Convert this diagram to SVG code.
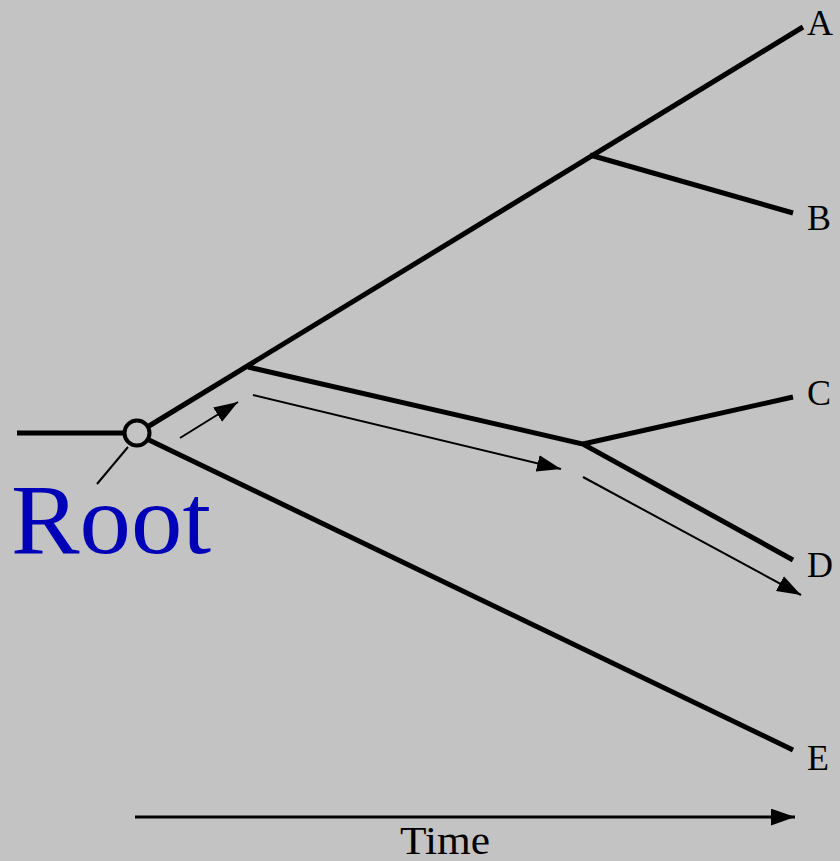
<svg xmlns="http://www.w3.org/2000/svg" width="840" height="861" viewBox="0 0 840 861">
<defs>
<marker id="ah2" viewBox="0 0 20 14" refX="20" refY="7" markerWidth="24" markerHeight="17" markerUnits="userSpaceOnUse" orient="auto">
<path d="M0,0 L20,7 L0,14 z" fill="#000"/>
</marker>
<style>
.br{stroke:#000;stroke-width:5;fill:none;stroke-linecap:butt;stroke-linejoin:miter}
.ar{stroke:#000;stroke-width:2;fill:none}
.lb{font-family:"Liberation Serif","Times New Roman",serif;font-size:36px;fill:#000}
</style>
</defs>
<rect width="840" height="861" fill="#c3c3c3"/>
<g id="connectors">
<line class="br" x1="17" y1="433" x2="125" y2="433"/>
<line class="br" x1="149" y1="426" x2="803" y2="27"/>
<line class="br" x1="590" y1="155" x2="793" y2="213"/>
<polyline class="br" points="248,367 583,444 793,560"/>
<line class="br" x1="583" y1="444" x2="793" y2="397"/>
<line class="br" x1="149" y1="440" x2="793" y2="750"/>
<line class="ar" x1="128" y1="447" x2="97" y2="484"/>
<line class="ar" x1="180" y1="438" x2="238" y2="402" marker-end="url(#ah2)"/>
<line class="ar" x1="253" y1="395" x2="561" y2="469" marker-end="url(#ah2)"/>
<line class="ar" x1="583" y1="477" x2="801" y2="595" marker-end="url(#ah2)"/>
<line class="br" style="stroke-width:3" x1="135" y1="817" x2="795" y2="817" marker-end="url(#ah2)"/>
</g>
<g id="root">
<circle cx="137" cy="433" r="12.5" fill="#c3c3c3" stroke="#000" stroke-width="4"/>
<text x="11" y="553" font-family="'Liberation Serif','Times New Roman',serif" font-size="100" fill="#0000b8" textLength="200" lengthAdjust="spacingAndGlyphs">Root</text>
</g>
<g id="A"><text class="lb" x="807" y="35">A</text></g>
<g id="B"><text class="lb" x="807" y="230">B</text></g>
<g id="C"><text class="lb" x="807" y="405">C</text></g>
<g id="D"><text class="lb" x="807" y="577">D</text></g>
<g id="E"><text class="lb" x="807" y="770">E</text></g>
<g id="time"><text class="lb" x="445" y="854" text-anchor="middle" textLength="90" lengthAdjust="spacingAndGlyphs" style="font-size:39px">Time</text></g>
</svg>
